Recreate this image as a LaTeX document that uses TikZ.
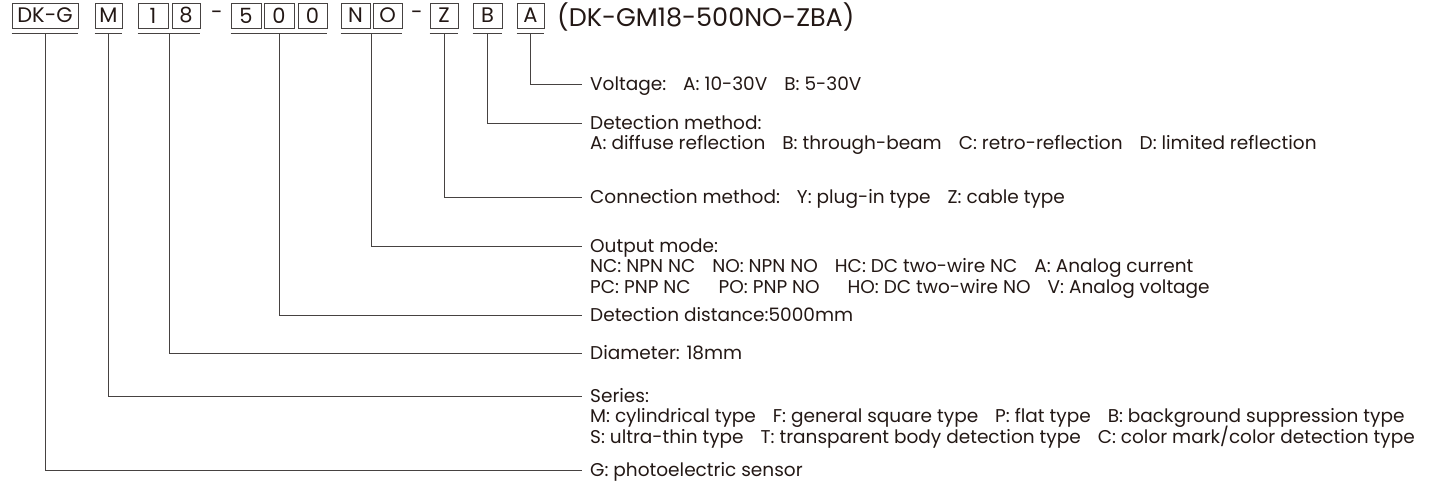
\documentclass[tikz,border=0pt]{standalone}
\usepackage{fontspec}
\setmainfont{Poppins}
\usetikzlibrary{positioning}
\definecolor{inkgray}{RGB}{35,24,21}
\definecolor{linegray}{RGB}{70,66,65}
\tikzset{code box/.style={draw=linegray, line width=0.9pt, inner sep=0pt,
    minimum height=25pt, minimum width=28pt, text=inkgray,
    font=\fontsize{21}{21}\selectfont}}
\tikzset{code dash/.style={inner sep=0pt, text=inkgray, font=\fontsize{21}{21}\selectfont}}
\tikzset{under line/.style={draw=linegray, line width=0.9pt}}
\tikzset{lead edge/.style={draw=linegray, line width=0.9pt}}
\tikzset{head text/.style={anchor=west, inner xsep=8pt, inner ysep=0pt,
    text height=13pt, text depth=0pt, text=inkgray,
    font=\fontsize{18.5}{20}\selectfont}}
\tikzset{more text/.style={head text, anchor=north west}}
\newcommand{\fieldgap}{\hspace{17pt}}

\begin{document}
\begin{tikzpicture}
  [x=1pt, y=-1pt]
  \useasboundingbox (0,0) rectangle (1432,488);
  % code boxes
  \node [code box, minimum width=66pt] (bDKG) at ( 45  , 15.5) {DK-G};
  \node [code box, minimum width=27pt] (bM)   at (108.5, 15.5) {M};
  \node [code box, minimum width=30pt] (b1)   at (153  , 15.5) {1};
  \node [code box]                     (b8)   at (186  , 15.5) {8};
  \node [code dash]                    (d1)   at (217  , 15.5) {-};
  \node [code box, minimum width=30pt] (b5)   at (246  , 15.5) {5};
  \node [code box, minimum width=30pt] (b0a)  at (279  , 15.5) {0};
  \node [code box, minimum width=29pt] (b0b)  at (312.5, 15.5) {0};
  \node [code box, minimum width=29pt] (bN)   at (355.5, 15.5) {N};
  \node [code box, minimum width=29pt] (bO)   at (387.5, 15.5) {O};
  \node [code dash]                    (d2)   at (417  , 15.5) {-};
  \node [code box]                     (bZ)   at (444  , 15.5) {Z};
  \node [code box, minimum width=29pt] (bB)   at (487.5, 15.5) {B};
  \node [code box, minimum width=27pt] (bA)   at (530.5, 15.5) {A};
  \node [code dash, anchor=west, font=\fontsize{25.5}{25.5}\selectfont] (full) at (557, 17) {(DK-GM18-500NO-ZBA)};

  % underlines
  \draw [under line] ([yshift=-5pt]bDKG.south west) -- coordinate (uDKG) ([yshift=-5pt]bDKG.south east);
  \draw [under line] ([yshift=-5pt]bM.south west)   -- coordinate (uM)   ([yshift=-5pt]bM.south east);
  \draw [under line] ([yshift=-5pt]b1.south west)   -- coordinate (u18)  ([yshift=-5pt]b8.south east);
  \draw [under line] ([yshift=-5pt]b5.south west)   -- coordinate (u500) ([yshift=-5pt]b0b.south east);
  \draw [under line] ([yshift=-5pt]bN.south west)   -- coordinate (uNO)  ([yshift=-5pt]bO.south east);
  \draw [under line] ([yshift=-5pt]bZ.south west)   -- coordinate (uZ)   ([yshift=-5pt]bZ.south east);
  \draw [under line] ([yshift=-5pt]bB.south west)   -- coordinate (uB)   ([yshift=-5pt]bB.south east);
  \draw [under line] ([yshift=-5pt]bA.south west)   -- coordinate (uA)   ([yshift=-5pt]bA.south east);

  % explanations
  \node [head text] (tvolt) at (582, 84) {Voltage:\fieldgap A: 10-30V\fieldgap B: 5-30V};
  \node [head text] (tdet)  at (582,123) {Detection method:};
  \node [more text, below=7pt of tdet.south west, anchor=north west] (tdet1)
    {A: diffuse reflection\fieldgap B: through-beam\fieldgap C: retro-reflection\fieldgap D: limited reflection};
  \node [head text] (tconn) at (582,197) {Connection method:\fieldgap Y: plug-in type\fieldgap Z: cable type};
  \node [head text] (tout)  at (582,246) {Output mode:};
  \node [more text, below=7pt of tout.south west, anchor=north west] (tout1)
    {NC: NPN NC\fieldgap NO: NPN NO\fieldgap HC: DC two-wire NC\fieldgap A: Analog current};
  \node [more text, below=7pt of tout1.south west, anchor=north west] (tout2)
    {PC: PNP NC\fieldgap\hspace{6pt} PO: PNP NO\fieldgap\hspace{6pt} HO: DC two-wire NO\fieldgap V: Analog voltage};
  \node [head text] (tdist) at (582,315) {Detection distance:5000mm};
  \node [head text] (tdiam) at (582,353) {Diameter: 18mm};
  \node [head text] (tser)  at (582,396) {Series:};
  \node [more text, below=7pt of tser.south west, anchor=north west] (tser1)
    {M: cylindrical type\fieldgap F: general square type\fieldgap P: flat type\fieldgap B: background suppression type};
  \node [more text, below=7pt of tser1.south west, anchor=north west] (tser2)
    {S: ultra-thin type\fieldgap T: transparent body detection type\fieldgap C: color mark/color detection type};
  \node [head text] (tG)    at (582,470) {G: photoelectric sensor};

  % leaders
  \draw [lead edge] (uA)   |- (tvolt.west);
  \draw [lead edge] (uB)   |- (tdet.west);
  \draw [lead edge] (uZ)   |- (tconn.west);
  \draw [lead edge] (uNO)  |- (tout.west);
  \draw [lead edge] (u500) |- (tdist.west);
  \draw [lead edge] (u18)  |- (tdiam.west);
  \draw [lead edge] (uM)   |- (tser.west);
  \draw [lead edge] (uDKG) |- (tG.west);
\end{tikzpicture}
\end{document}
